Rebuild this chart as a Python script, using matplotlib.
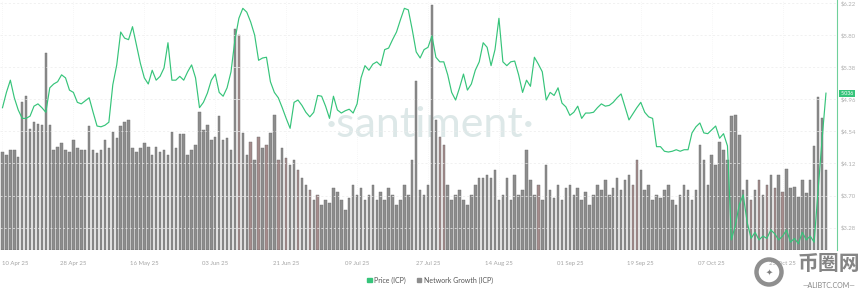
import numpy as np
import pandas as pd
import matplotlib
matplotlib.use('Agg')
import matplotlib.pyplot as plt
import matplotlib.dates as mdates
from matplotlib.patches import Patch, Circle

# daily data, ICP (Santiment)
dates = pd.date_range('2025-04-10', periods=210, freq='D')

price = [4.85, 5.05, 5.21, 4.98, 4.82, 4.71, 4.71, 4.74, 4.87, 4.90,
         4.85, 4.79, 5.11, 5.16, 5.19, 5.28, 5.24, 5.08, 5.05, 4.92,
         4.90, 4.94, 4.98, 4.79, 4.61, 4.60, 4.62, 4.66, 5.15, 5.41,
         5.84, 5.76, 5.74, 5.91, 5.67, 5.43, 5.24, 5.16, 5.34, 5.21,
         5.26, 5.37, 5.70, 5.21, 5.21, 5.26, 5.21, 5.32, 5.41, 5.24,
         4.85, 4.92, 5.04, 5.21, 5.29, 5.05, 5.00, 5.11, 5.32, 5.74,
         6.02, 6.15, 6.10, 5.97, 5.80, 5.47, 5.50, 5.51, 5.19, 5.05,
         4.98, 4.85, 4.71, 4.58, 4.92, 4.95, 4.88, 4.79, 4.73, 4.79,
         5.01, 5.00, 4.87, 4.71, 5.00, 4.82, 4.78, 4.81, 4.83, 4.78,
         4.90, 5.24, 5.40, 5.34, 5.42, 5.45, 5.40, 5.61, 5.63, 5.74,
         5.84, 6.00, 6.15, 6.13, 5.87, 5.58, 5.50, 5.61, 5.64, 5.79,
         5.51, 5.45, 5.45, 5.28, 5.05, 4.95, 5.11, 5.29, 5.08, 5.16,
         5.34, 5.45, 5.70, 5.64, 5.40, 5.61, 6.02, 5.45, 5.40, 5.45,
         5.46, 5.28, 5.05, 5.21, 5.13, 5.51, 5.42, 5.32, 4.95, 5.05,
         5.01, 5.11, 4.91, 4.86, 4.75, 4.79, 4.87, 4.71, 4.78, 4.78,
         4.79, 4.85, 4.90, 4.87, 4.88, 4.92, 4.98, 5.03, 4.86, 4.69,
         4.77, 4.85, 4.92, 4.79, 4.73, 4.71, 4.34, 4.34, 4.28, 4.27,
         4.28, 4.30, 4.28, 4.30, 4.30, 4.52, 4.60, 4.65, 4.52, 4.51,
         4.56, 4.61, 4.45, 4.51, 4.35, 3.12, 3.31, 3.58, 3.71, 3.35,
         3.14, 3.22, 3.12, 3.17, 3.14, 3.25, 3.20, 3.12, 3.17, 3.25,
         3.09, 3.14, 3.07, 3.22, 3.12, 3.17, 3.09, 3.77, 4.43, 5.04]

growth = [98, 95, 100, 100, 93, 148, 154, 121, 128, 126,
          125, 197, 125, 100, 103, 107, 100, 98, 110, 102,
          100, 100, 124, 100, 97, 100, 110, 102, 118, 112,
          124, 128, 130, 102, 98, 102, 107, 103, 95, 103,
          98, 100, 95, 118, 102, 116, 116, 95, 100, 105,
          138, 120, 125, 110, 113, 134, 110, 112, 100, 221,
          215, 117, 95, 108, 90, 113, 102, 105, 117, 135,
          90, 102, 92, 85, 90, 80, 72, 65, 60, 50,
          55, 45, 50, 47, 62, 58, 50, 40, 52, 65,
          55, 62, 50, 55, 65, 50, 58, 50, 62, 55,
          45, 50, 65, 55, 90, 169, 60, 55, 65, 245,
          130, 113, 105, 65, 50, 55, 60, 50, 45, 55,
          65, 72, 72, 75, 72, 80, 50, 55, 72, 50,
          75, 55, 60, 100, 70, 55, 65, 50, 85, 60,
          52, 65, 50, 62, 65, 55, 62, 50, 58, 45,
          55, 65, 60, 70, 55, 62, 72, 60, 70, 75,
          65, 90, 80, 60, 65, 50, 55, 52, 60, 65,
          50, 45, 55, 65, 60, 50, 60, 105, 90, 65,
          95, 85, 108, 100, 90, 134, 135, 115, 60, 70,
          50, 60, 70, 55, 65, 75, 62, 75, 58, 81,
          62, 63, 53, 70, 57, 70, 104, 153, 132, 80]

reddish = [60, 63, 65, 67, 70, 72, 75, 78, 80, 111, 112, 136,
           160, 161, 190, 192, 194, 196, 198]

tick_dates = ['2025-04-10', '2025-04-28', '2025-05-16', '2025-06-03',
              '2025-06-21', '2025-07-09', '2025-07-27', '2025-08-14',
              '2025-09-01', '2025-09-19', '2025-10-07', '2025-10-25']
tick_labels = ['10 Apr 25', '28 Apr 25', '16 May 25', '03 Jun 25',
               '21 Jun 25', '09 Jul 25', '27 Jul 25', '14 Aug 25',
               '01 Sep 25', '19 Sep 25', '07 Oct 25', '25 Oct 25']
price_ticks = [3.28, 3.70, 4.12, 4.54, 4.96, 5.38, 5.80, 6.22]
last_price = 5.036

green = '#36c47a'
bar_gray = '#8d8d8d'
bar_red = '#a58c8c'

plt.rcParams['font.family'] = ['Lato', 'DejaVu Sans']

fig = plt.figure(figsize=(8.6, 2.91), dpi=100)
ax = fig.add_axes([0, 41/291, 837/860, 250/291])
ax2 = ax.twinx()

x0 = dates[0]
ax.set_xlim(x0 - pd.Timedelta(days=0.63), x0 + pd.Timedelta(days=211.8))

# watermark behind everything
ax.text(0.514, 0.5, '·santiment·', transform=ax.transAxes, ha='center', va='center',
        fontsize=31, color='#dde8e8', zorder=0)

colors = [bar_red if i in reddish else bar_gray for i in range(len(growth))]
ax.bar(dates, growth, width=0.63, color=colors, edgecolor='#6c6c6c', linewidth=0.3, zorder=2)
ax.set_ylim(0, 250)
ax.set_yticks([])

ax2.plot(dates, price, color=green, linewidth=0.85, zorder=3)
ax2.set_ylim(2.988, 6.259)
ax2.set_yticks(price_ticks)
ax2.set_yticklabels(['$%.2f' % p for p in price_ticks])
ax2.tick_params(axis='y', length=0, pad=3, labelsize=4.3, labelcolor='#b0b0b0')

ax.set_xticks(pd.to_datetime(tick_dates))
ax.set_xticklabels(tick_labels)
ax.tick_params(axis='x', length=0, pad=8, labelsize=4.3, labelcolor='#a5a5a5')
ax.get_xticklabels()[0].set_ha('left')

# grid
for p in price_ticks:
    ax2.axhline(p, color='#ececec', linewidth=0.5, linestyle=(0, (3, 3)), zorder=0)
for d in pd.to_datetime(tick_dates):
    ax.axvline(d, color='#eeeeee', linewidth=0.5, linestyle=(0, (1, 2)), zorder=0)

for a in (ax, ax2):
    for s in a.spines.values():
        s.set_visible(False)
ax2.spines['right'].set_visible(True)
ax2.spines['right'].set_color('#6fd09a')
ax2.spines['right'].set_linewidth(0.8)

# current price badge
ax2.text(1.004, last_price, '%.3f' % last_price, transform=ax2.get_yaxis_transform(),
         ha='left', va='center', fontsize=3.8, color='white', zorder=5,
         bbox=dict(boxstyle='square,pad=0.25', fc=green, ec='none'))

handles = [Patch(color=green), Patch(color=bar_gray)]
fig.legend(handles, ['Price (ICP)', 'Network Growth (ICP)'], loc='center',
           bbox_to_anchor=(0.5, 0.038), ncol=2, frameon=False, fontsize=5,
           handlelength=0.7, handleheight=0.7, handletextpad=0.4, columnspacing=1.5,
           labelcolor='#555555')

# site watermark bottom-right
fig.patches.append(Circle((7.69, 0.19), 0.125, transform=fig.dpi_scale_trans,
                          fill=False, ec='#8f8f8f', lw=3.2))
fig.text(769/860, 19/291, '✦', ha='center', va='center', fontsize=6, color='#7f7f7f')
fig.text(829/860, 27/291, '币圈网', ha='center', va='center', fontsize=15, color='#858585',
         family=['Noto Sans CJK SC', 'DejaVu Sans'], fontweight='bold')
fig.text(829/860, 5/291, '—ALIBTC.COM—', ha='center', va='center', fontsize=5, color='#858585')

fig.savefig('out.png', dpi=100, facecolor='white')
